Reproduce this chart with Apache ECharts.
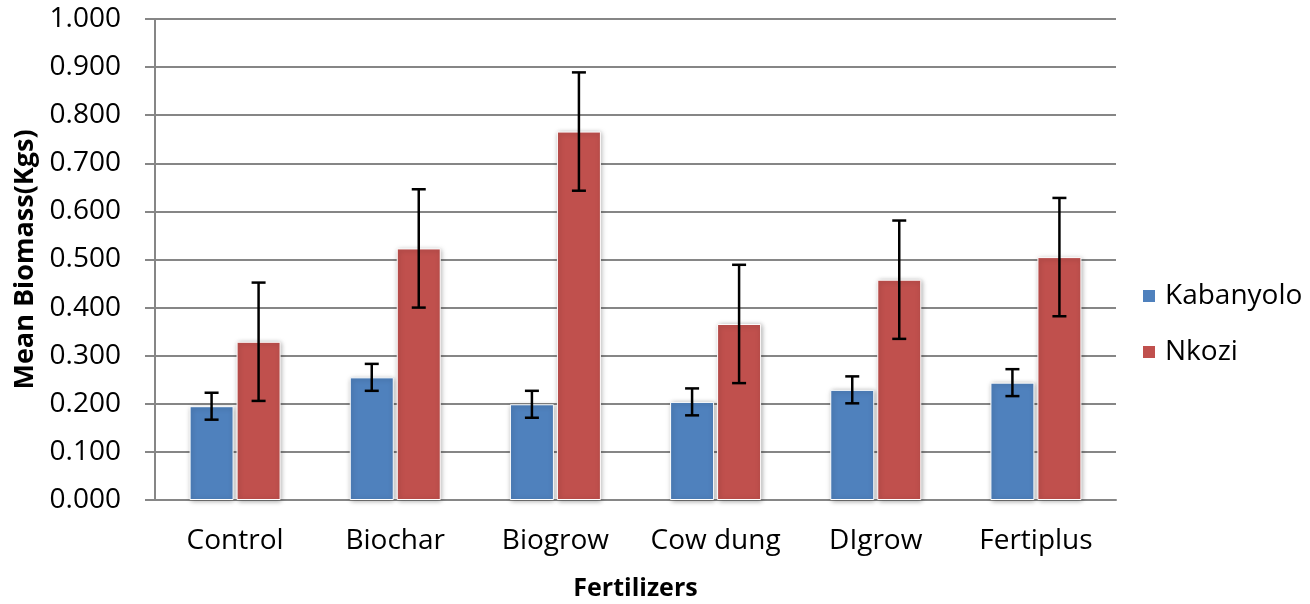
<!DOCTYPE html>
<html>
<head>
<meta charset="utf-8">
<script src="https://cdn.jsdelivr.net/npm/echarts@6/dist/echarts.min.js"></script>
<style>
  html, body { margin: 0; padding: 0; background: #fff; }
  #chart { width: 1310px; height: 604px; }
</style>
</head>
<body>
<div id="chart"></div>
<script>
const categories = ["Control", "Biochar", "Biogrow", "Cow dung", "DIgrow", "Fertiplus"];
const kabanyolo = [0.195, 0.255, 0.199, 0.204, 0.229, 0.244];
const nkozi = [0.329, 0.523, 0.766, 0.366, 0.458, 0.505];
// error bar half-widths (+/-)
const kabanyoloErr = [0.028, 0.028, 0.028, 0.028, 0.028, 0.028];
const nkoziErr = [0.123, 0.123, 0.123, 0.123, 0.123, 0.123];

const FONT = "Open Sans";
const BAR_W = 44;
const BAR_GAP = 3;

// error bars drawn on top of the grouped bars
const errorSeries = (values, errs, side) => ({
  type: "custom",
  z: 10,
  silent: true,
  data: values.map((v, i) => [i, v - errs[i], v + errs[i]]),
  renderItem: (params, api) => {
    const i = api.value(0);
    const lo = api.coord([i, api.value(1)]);
    const hi = api.coord([i, api.value(2)]);
    const x = lo[0] + side * (BAR_W + BAR_GAP) / 2;
    const cap = 7;
    const style = { stroke: "#000", lineWidth: 2.5 };
    return {
      type: "group",
      children: [
        { type: "line", shape: { x1: x, y1: hi[1], x2: x, y2: lo[1] }, style },
        { type: "line", shape: { x1: x - cap, y1: hi[1], x2: x + cap, y2: hi[1] }, style },
        { type: "line", shape: { x1: x - cap, y1: lo[1], x2: x + cap, y2: lo[1] }, style }
      ]
    };
  }
});

const barStyle = (color) => ({
  color,
  borderColor: "#fff",
  borderWidth: 1,
  shadowBlur: 5,
  shadowColor: "rgba(0,0,0,0.35)",
  shadowOffsetX: 1,
  shadowOffsetY: 1
});

const chart = echarts.init(document.getElementById("chart"));
chart.setOption({
  animation: false,
  grid: { left: 155, right: 194, top: 19, bottom: 104, containLabel: false, outerBoundsMode: "none" },
  legend: {
    orient: "vertical",
    left: 1136,
    top: 277,
    itemWidth: 14,
    itemHeight: 14,
    itemGap: 28,
    icon: "rect",
    textStyle: { fontFamily: FONT, fontSize: 28, color: "#000", padding: [0, 0, 0, 4] },
    data: ["Kabanyolo", "Nkozi"]
  },
  xAxis: {
    type: "category",
    data: categories,
    name: "Fertilizers",
    nameLocation: "middle",
    nameGap: 76,
    nameTextStyle: { fontFamily: FONT, fontSize: 25, fontWeight: "bold", color: "#000" },
    axisLine: { lineStyle: { color: "#868686", width: 2 } },
    axisTick: { show: false },
    axisLabel: { fontFamily: FONT, fontSize: 28, color: "#000", margin: 27, interval: 0 }
  },
  yAxis: {
    type: "value",
    min: 0,
    max: 1,
    interval: 0.1,
    name: "Mean Biomass(Kgs)",
    nameLocation: "middle",
    nameGap: 114,
    nameTextStyle: { fontFamily: FONT, fontSize: 27, fontWeight: "bold", color: "#000" },
    axisLine: { show: true, lineStyle: { color: "#868686", width: 2 } },
    axisTick: { show: true, length: 10, lineStyle: { color: "#868686", width: 2 } },
    splitLine: { lineStyle: { color: "#868686", width: 2 } },
    axisLabel: {
      fontFamily: FONT,
      fontSize: 28,
      color: "#000",
      margin: 34,
      formatter: (v) => v.toFixed(3)
    }
  },
  series: [
    {
      name: "Kabanyolo",
      type: "bar",
      data: kabanyolo,
      barWidth: BAR_W,
      barGap: (BAR_GAP / BAR_W * 100) + "%",
      itemStyle: barStyle("#4F81BD")
    },
    {
      name: "Nkozi",
      type: "bar",
      data: nkozi,
      barWidth: BAR_W,
      barGap: (BAR_GAP / BAR_W * 100) + "%",
      itemStyle: barStyle("#C0504D")
    },
    errorSeries(kabanyolo, kabanyoloErr, -1),
    errorSeries(nkozi, nkoziErr, 1)
  ]
});
</script>
</body>
</html>
